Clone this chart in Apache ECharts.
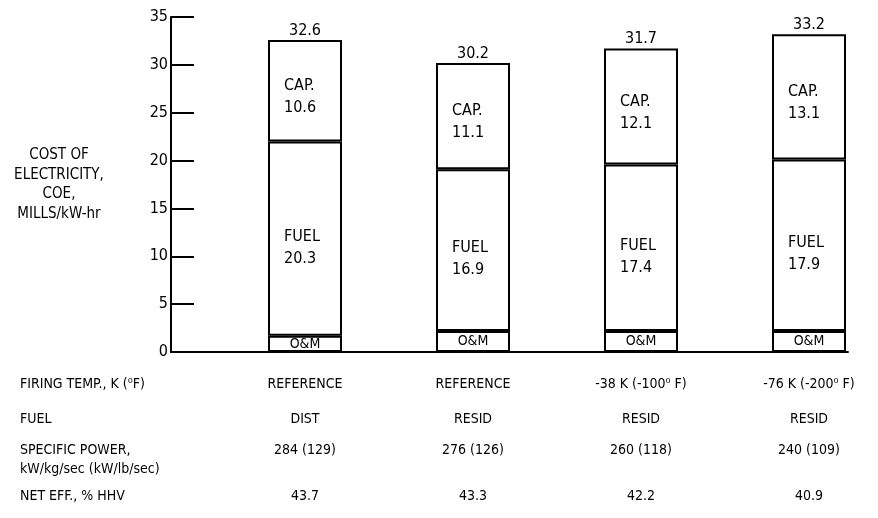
<!DOCTYPE html>
<html>
<head>
<meta charset="utf-8">
<script src="https://cdn.jsdelivr.net/npm/echarts@6/dist/echarts.min.js"></script>
<style>
html,body{margin:0;padding:0;background:#fff;}
#c{width:878px;height:518px;}
</style>
</head>
<body>
<div id="c"></div>
<script>
// ---- data ----
const categories = ['REFERENCE / DIST', 'REFERENCE / RESID', '-38 K / RESID', '-76 K / RESID'];
const omValues = [1.7, 2.2, 2.2, 2.2];
const fuelValues = [20.3, 16.9, 17.4, 17.9];
const capValues = [10.6, 11.1, 12.1, 13.1];
const totalValues = [32.6, 30.2, 31.7, 33.2];
const yTicks = [0, 5, 10, 15, 20, 25, 30, 35];
const yTitle = 'COST OF\nELECTRICITY,\nCOE,\nMILLS/kW-hr';
const rowLabels = ['FIRING TEMP., K (\u2070F)', 'FUEL', 'SPECIFIC POWER,\nkW/kg/sec (kW/lb/sec)', 'NET EFF., % HHV'];
const firingTemp = ['REFERENCE', 'REFERENCE', '-38 K (-100\u2070 F)', '-76 K (-200\u2070 F)'];
const fuelType = ['DIST', 'RESID', 'RESID', 'RESID'];
const specificPower = ['284 (129)', '276 (126)', '260 (118)', '240 (109)'];
const netEff = ['43.7', '43.3', '42.2', '40.9'];

const F = "'DejaVu Sans Condensed','Liberation Sans Narrow','DejaVu Sans',sans-serif";
const chart = echarts.init(document.getElementById('c'), null, {renderer: 'canvas'});

const yMin = yTicks[0], yMax = yTicks[yTicks.length - 1];
const barStyle = {color: '#ffffff', borderColor: '#000', borderWidth: 2};
const segLabel = (name, vals, dy) => ({
  show: true, position: [16, '50%'], offset: [0, dy], align: 'left', verticalAlign: 'middle',
  formatter: p => name + '\n' + vals[p.dataIndex].toFixed(1),
  fontFamily: F, fontSize: 16, lineHeight: 22, color: '#000'
});

chart.setOption({
  animation: false,
  backgroundColor: '#fff',
  grid: [
    {left: 305, right: 69, top: 17, bottom: 166},    // bars (category centres at the grid edges)
    {left: 171, right: 30, top: 17, bottom: 166}     // frame axes
  ],
  xAxis: [
    {gridIndex: 0, type: 'category', data: categories, boundaryGap: false, show: false},
    {gridIndex: 1, type: 'value', min: 0, max: 1,
      axisLine: {show: true, lineStyle: {color: '#000', width: 2}},
      axisTick: {show: false}, axisLabel: {show: false}, splitLine: {show: false}}
  ],
  yAxis: [
    {gridIndex: 0, type: 'value', min: yMin, max: yMax, show: false},
    {gridIndex: 1, type: 'value', min: yMin, max: yMax, interval: 5,
      name: yTitle, nameLocation: 'middle', nameRotate: 0, nameGap: 112,
      nameTextStyle: {fontFamily: F, fontSize: 15, color: '#000', align: 'center', lineHeight: 19.5, padding: [10, 0, 0, 0]},
      axisLine: {show: true, lineStyle: {color: '#000', width: 2}},
      axisTick: {show: true, inside: true, length: 23, lineStyle: {color: '#000', width: 2}},
      axisLabel: {fontFamily: F, fontSize: 16, color: '#000', margin: 3, padding: [4, 0, 0, 0]},
      splitLine: {show: false}}
  ],
  series: [
    {
      type: 'bar', name: 'O&M', stack: 'coe', barWidth: 74, clip: false, data: omValues, itemStyle: barStyle,
      label: {show: true, position: 'inside', formatter: 'O&M', fontFamily: F, fontSize: 14, color: '#000'}
    },
    {type: 'bar', name: 'FUEL', stack: 'coe', barWidth: 74, clip: false, data: fuelValues, itemStyle: barStyle,
      label: segLabel('FUEL', fuelValues, 9)},
    {type: 'bar', name: 'CAP.', stack: 'coe', barWidth: 74, clip: false, data: capValues, itemStyle: barStyle,
      label: segLabel('CAP.', capValues, 6)},
    {
      type: 'scatter', name: 'total', symbolSize: 1, clip: false, data: totalValues, z: 5,
      itemStyle: {opacity: 1, color: 'rgba(0,0,0,0)'},
      label: {show: true, position: 'top', distance: 1, formatter: p => totalValues[p.dataIndex].toFixed(1),
        fontFamily: F, fontSize: 16, color: '#000', opacity: 1}
    }
  ]
});

// table under the chart, positioned from the category axis
const rowY = [384, 419, 450, 496];
const colRows = [firingTemp, fuelType, specificPower, netEff];
const g = [];
rowLabels.forEach((t, r) => {
  g.push({type: 'text', left: 20, top: rowY[r] - 9,
    style: {text: t, font: '14px ' + F, fill: '#000', lineHeight: 19}});
});
colRows.forEach((vals, r) => {
  vals.forEach((t, i) => {
    const x = chart.convertToPixel({xAxisIndex: 0}, i);
    g.push({type: 'text', x: x, y: rowY[r],
      style: {text: t, font: '14px ' + F, fill: '#000', align: 'center', verticalAlign: 'middle'}});
  });
});
chart.setOption({graphic: g});
</script>
</body>
</html>
